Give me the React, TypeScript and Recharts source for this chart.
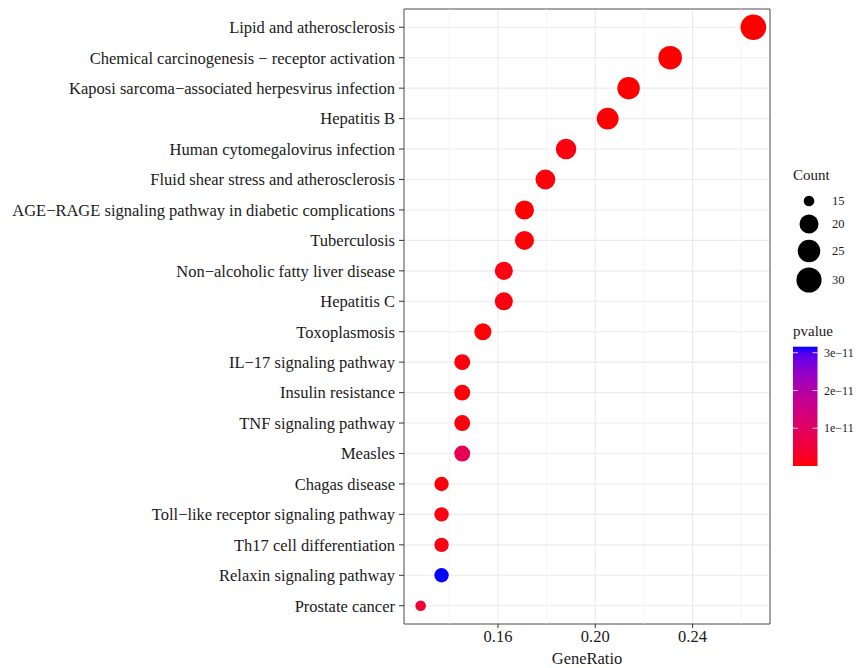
import React from 'react';
import {
  ScatterChart,
  Scatter,
  XAxis,
  YAxis,
  CartesianGrid,
  ReferenceLine,
  ReferenceArea,
} from 'recharts';

// ---------- data (top to bottom as displayed) ----------
const pathways = [
  'Lipid and atherosclerosis',
  'Chemical carcinogenesis \u2212 receptor activation',
  'Kaposi sarcoma\u2212associated herpesvirus infection',
  'Hepatitis B',
  'Human cytomegalovirus infection',
  'Fluid shear stress and atherosclerosis',
  'AGE\u2212RAGE signaling pathway in diabetic complications',
  'Tuberculosis',
  'Non\u2212alcoholic fatty liver disease',
  'Hepatitis C',
  'Toxoplasmosis',
  'IL\u221217 signaling pathway',
  'Insulin resistance',
  'TNF signaling pathway',
  'Measles',
  'Chagas disease',
  'Toll\u2212like receptor signaling pathway',
  'Th17 cell differentiation',
  'Relaxin signaling pathway',
  'Prostate cancer',
];

const geneRatios = [
  0.265, 0.2308, 0.2137, 0.2051, 0.188, 0.1795, 0.1709, 0.1709, 0.1624, 0.1624,
  0.1538, 0.1453, 0.1453, 0.1453, 0.1453, 0.1368, 0.1368, 0.1368, 0.1368, 0.1282,
];

const counts = [31, 27, 25, 24, 22, 21, 20, 20, 19, 19, 18, 17, 17, 17, 17, 16, 16, 16, 16, 15];

const pvalues = [
  1.2e-15, 3.4e-14, 5.1e-14, 2.2e-13, 8.0e-13, 4.5e-13, 6.1e-14, 3.3e-13, 1.1e-12, 9.5e-13,
  2.6e-13, 6.3e-13, 4.1e-13, 7.7e-13, 8.8e-12, 5.2e-13, 9.1e-13, 7.4e-13, 3.16e-11, 4.6e-12,
];

const xTicks = [0.16, 0.2, 0.24];
const xMinorTicks = [0.14, 0.18, 0.22, 0.26];
const countLegend = [15, 20, 25, 30];
const pvalueLegendTicks = [1e-11, 2e-11, 3e-11];
const pvalueLegendLabels = ['1e\u221211', '2e\u221211', '3e\u221211'];

// ---------- helpers ----------
const FONT = '"Liberation Serif", "Times New Roman", serif';
const TEXT = '#1a1a1a';

const nRows = pathways.length;
const rowIndex = (i: number) => nRows - i; // 1 = bottom row

const data = pathways.map((name, i) => ({
  name,
  ratio: geneRatios[i],
  count: counts[i],
  pvalue: pvalues[i],
  row: rowIndex(i),
}));

const rMin = Math.min(...geneRatios);
const rMax = Math.max(...geneRatios);
const xPad = (rMax - rMin) * 0.05;
const xDomain: [number, number] = [rMin - xPad, rMax + xPad];
const yDomain: [number, number] = [0.4, nRows + 0.6];
const yTicks = pathways.map((_, i) => i + 1);

const cMin = Math.min(...counts);
const cMax = Math.max(...counts);
const radiusFor = (c: number) => 5.3 + 7.5 * Math.sqrt((c - cMin) / (cMax - cMin));

const pMin = Math.min(...pvalues);
const pMax = Math.max(...pvalues);

function srgbToLin(c: number) {
  c /= 255;
  return c <= 0.04045 ? c / 12.92 : Math.pow((c + 0.055) / 1.055, 2.4);
}
function linToSrgb(c: number) {
  c = Math.max(0, Math.min(1, c));
  const v = c <= 0.0031308 ? 12.92 * c : 1.055 * Math.pow(c, 1 / 2.4) - 0.055;
  return Math.round(Math.max(0, Math.min(1, v)) * 255);
}
function rgbToLab(rgb: number[]) {
  const R = srgbToLin(rgb[0]);
  const G = srgbToLin(rgb[1]);
  const B = srgbToLin(rgb[2]);
  const X = (0.4124 * R + 0.3576 * G + 0.1805 * B) / 0.95047;
  const Y = 0.2126 * R + 0.7152 * G + 0.0722 * B;
  const Z = (0.0193 * R + 0.1192 * G + 0.9505 * B) / 1.08883;
  const f = (t: number) => (t > 0.008856 ? Math.cbrt(t) : 7.787 * t + 16 / 116);
  const fx = f(X), fy = f(Y), fz = f(Z);
  return [116 * fy - 16, 500 * (fx - fy), 200 * (fy - fz)];
}
function labToRgb(lab: number[]) {
  const fy = (lab[0] + 16) / 116;
  const fx = fy + lab[1] / 500;
  const fz = fy - lab[2] / 200;
  const finv = (t: number) => (t * t * t > 0.008856 ? t * t * t : (t - 16 / 116) / 7.787);
  const X = 0.95047 * finv(fx);
  const Y = finv(fy);
  const Z = 1.08883 * finv(fz);
  const R = 3.2406 * X - 1.5372 * Y - 0.4986 * Z;
  const G = -0.9689 * X + 1.8758 * Y + 0.0415 * Z;
  const B = 0.0557 * X - 0.204 * Y + 1.057 * Z;
  return [linToSrgb(R), linToSrgb(G), linToSrgb(B)];
}
const LOW = rgbToLab([255, 0, 0]);
const HIGH = rgbToLab([0, 0, 255]);
function mix(t: number) {
  const lab = LOW.map((v, k) => v + (HIGH[k] - v) * t);
  const [r, g, b] = labToRgb(lab);
  return `rgb(${r},${g},${b})`;
}
const colorFor = (p: number) => mix((p - pMin) / (pMax - pMin));

const Dot = (props: any) => {
  const { cx, cy, payload } = props;
  if (cx == null || cy == null) return null;
  return <circle cx={cx} cy={cy} r={radiusFor(payload.count)} fill={colorFor(payload.pvalue)} />;
};

// ---------- legends (drawn in an overlay) ----------
const Legends = () => {
  const barX = 793;
  const barW = 24.5;
  const barTop = 346.7;
  const barBottom = 466;
  const barH = barBottom - barTop;
  const yFor = (p: number) => barBottom - ((p - pMin) / (pMax - pMin)) * barH;
  const stops = Array.from({ length: 21 }, (_, k) => k / 20);
  const countY = [201, 224, 251, 280];
  return (
    <svg
      width={857}
      height={668}
      style={{ position: 'absolute', left: 0, top: 0, pointerEvents: 'none' }}
    >
      <defs>
        <linearGradient id="pgrad" x1="0" y1="1" x2="0" y2="0">
          {stops.map((t) => (
            <stop key={t} offset={t} stopColor={mix(t)} />
          ))}
        </linearGradient>
      </defs>
      <text x={793} y={180} fontFamily={FONT} fontSize={15} fill={TEXT}>
        Count
      </text>
      {countLegend.map((c, i) => (
        <g key={c}>
          <circle cx={809} cy={countY[i]} r={radiusFor(c)} fill="#000" />
          <text x={832} y={countY[i]} dy="0.35em" fontFamily={FONT} fontSize={12.5} fill={TEXT}>
            {c}
          </text>
        </g>
      ))}
      <text x={793} y={336} fontFamily={FONT} fontSize={15} fill={TEXT}>
        pvalue
      </text>
      <rect x={barX} y={barTop} width={barW} height={barH} fill="url(#pgrad)" />
      {pvalueLegendTicks.map((p, i) => (
        <g key={p}>
          <line x1={barX} x2={barX + 5} y1={yFor(p)} y2={yFor(p)} stroke="#fff" strokeWidth={1} opacity={0.8} />
          <line x1={barX + barW - 5} x2={barX + barW} y1={yFor(p)} y2={yFor(p)} stroke="#fff" strokeWidth={1} opacity={0.8} />
          <text x={824} y={yFor(p)} dy="0.35em" fontFamily={FONT} fontSize={12} fill={TEXT}>
            {pvalueLegendLabels[i]}
          </text>
        </g>
      ))}
    </svg>
  );
};

export default function App() {
  return (
    <div
      style={{
        position: 'absolute',
        left: 0,
        top: 0,
        width: 857,
        height: 668,
        background: '#fff',
        fontFamily: FONT,
      }}
    >
      <ScatterChart width={857} height={668} margin={{ top: 9, right: 87, bottom: 0, left: 0 }}>
        <CartesianGrid stroke="#ebebeb" strokeWidth={1.1} />
        {xMinorTicks.map((v) => (
          <ReferenceLine key={v} x={v} stroke="#f0f0f0" strokeWidth={0.7} />
        ))}
        <XAxis
          type="number"
          dataKey="ratio"
          domain={xDomain}
          ticks={xTicks}
          allowDataOverflow
          tickFormatter={(v: number) => v.toFixed(2)}
          height={44}
          axisLine={false}
          tickSize={4}
          tickMargin={2}
          tickLine={{ stroke: '#333' }}
          tick={{ fill: TEXT, fontSize: 16.5, fontFamily: FONT }}
          label={{
            value: 'GeneRatio',
            position: 'insideBottom',
            offset: 4,
            fill: TEXT,
            fontSize: 16.5,
            fontFamily: FONT,
          }}
        />
        <YAxis
          type="number"
          dataKey="row"
          domain={yDomain}
          ticks={yTicks}
          allowDataOverflow
          interval={0}
          tickFormatter={(v: number) => pathways[nRows - v] ?? ''}
          width={404}
          axisLine={false}
          tickSize={5}
          tickMargin={4}
          tickLine={{ stroke: '#333' }}
          tick={{ fill: TEXT, fontSize: 16.5, fontFamily: FONT }}
        />
        <Scatter data={data} shape={Dot} isAnimationActive={false} />
        <ReferenceArea
          x1={xDomain[0]}
          x2={xDomain[1]}
          y1={yDomain[0]}
          y2={yDomain[1]}
          fill="none"
          fillOpacity={0}
          stroke="#555"
          strokeOpacity={1}
          ifOverflow="visible"
        />
      </ScatterChart>
      <Legends />
    </div>
  );
}
